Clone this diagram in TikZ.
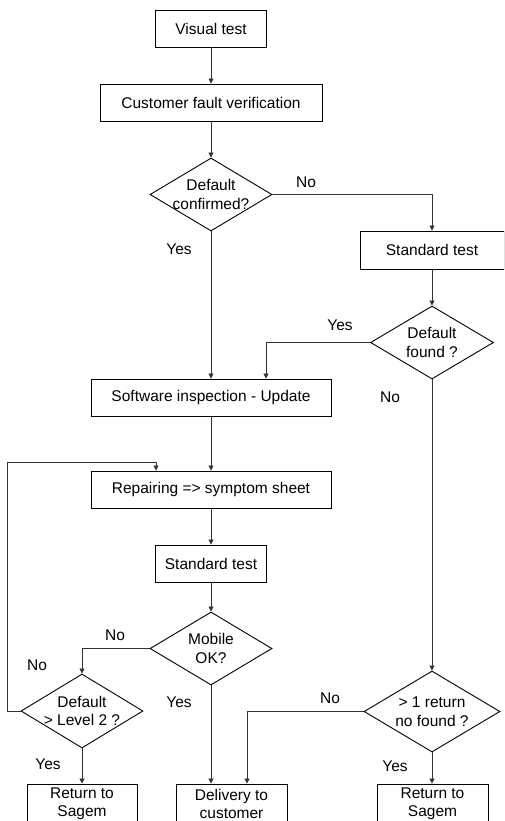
\documentclass[tikz,border=0pt]{standalone}
\usepackage{fontspec}
\setmainfont{Liberation Sans}
\usetikzlibrary{shapes.geometric,arrows.meta}
\begin{document}
\begin{tikzpicture}[x=1pt,y=-1pt,
  every node/.style={font=\fontsize{15.5}{18.5}\selectfont},
  box/.style={draw=black,line width=0.9pt,inner sep=0pt,align=center},
  dia/.style={draw=black,line width=0.9pt,diamond,inner sep=0pt},
  lbl/.style={inner sep=0pt},
  conn/.style={draw=black!80,line width=0.8pt,-{Triangle[width=5pt,length=5pt]}},
  plain/.style={draw=black!80,line width=0.8pt}]
\useasboundingbox (0,0) rectangle (504,821);
\fill[white] (0,0) rectangle (504,821);
\begin{scope}
\clip (0,0) rectangle (504,821);
% boxes
\node[box,minimum width=111pt,minimum height=37pt] (vt) at (211,28.5) {Visual test};
\node[box,minimum width=222pt,minimum height=37pt] (cfv) at (211,102.5) {Customer fault verification};
\node[dia,minimum width=122pt,minimum height=73pt,label={[align=center,lbl]center:Default\\confirmed?}] (d1) at (211,194.5) {};
\node[box,minimum width=144pt,minimum height=38pt] (st1) at (432,250) {Standard test};
\node[dia,minimum width=123pt,minimum height=73pt,label={[align=center,lbl]center:Default\\found ?}] (d2) at (432,342.5) {};
\node[box,minimum width=240pt,minimum height=37pt] (sw) at (211,397.5) {Software inspection - Update};
\node[box,minimum width=240pt,minimum height=37pt] (rep) at (211,489.5) {Repairing => symptom sheet};
\node[box,minimum width=111pt,minimum height=37pt] (st2) at (211,563.5) {Standard test};
\node[dia,minimum width=122pt,minimum height=73pt,label={[align=center,lbl]center:Mobile\\OK?}] (d3) at (211,648.5) {};
\node[dia,minimum width=122pt,minimum height=74pt,label={[align=center,lbl]center:Default\\> Level 2 ?}] (d4) at (82,711) {};
\node[dia,minimum width=136pt,minimum height=81pt,label={[align=center,lbl]center:> 1 return\\no found ?}] (d5) at (432,711.5) {};
\node[box,minimum width=110pt,minimum height=40pt] (r1) at (82,804) {Return to\\Sagem};
\node[box,minimum width=111pt,minimum height=40pt] (del) at (231.5,804) {Delivery to\\customer};
\node[box,minimum width=111pt,minimum height=40pt] (r2) at (432.5,804) {Return to\\Sagem};
% labels
\node[lbl] (l1) at (306,182) {No};
\node[lbl] (l2) at (179,249) {Yes};
\node[lbl] (l3) at (340,325) {Yes};
\node[lbl] (l4) at (390,397) {No};
\node[lbl] (l5) at (115,635) {No};
\node[lbl] (l6) at (37,665) {No};
\node[lbl] (l7) at (179,702) {Yes};
\node[lbl] (l8) at (330,698) {No};
\node[lbl] (l9) at (48,764) {Yes};
\node[lbl] (l10) at (395,766) {Yes};
\coordinate (loopc) at (7,462);
% connectors
\draw[conn] (vt.south) -- (cfv.north);
\draw[conn] (cfv.south) -- (d1.north);
\draw[conn] (d1.east) -| (st1.north);
\draw[conn] (d1.south) -- (sw.north);
\draw[conn] (st1.south) -- (d2.north);
\draw[conn] (d2.west) -| ([xshift=55pt]sw.north);
\draw[conn] (d2.south) -- (d5.north);
\draw[conn] (sw.south) -- (rep.north);
\draw[conn] (rep.south) -- (st2.north);
\draw[conn] (st2.south) -- (d3.north);
\draw[conn] (d3.west) -| (d4.north);
\draw[conn] (d4.west) -| (loopc) -| ([xshift=-55pt]rep.north);
\draw[conn] (d4.south) -- (r1.north);
\draw[conn] (d3.south) -- (d3.south |- del.north);
\draw[conn] (d5.west) -| ([xshift=15.5pt]del.north);
\draw[conn] (d5.south) -- (d5.south |- r2.north);
\end{scope}
\end{tikzpicture}
\end{document}
